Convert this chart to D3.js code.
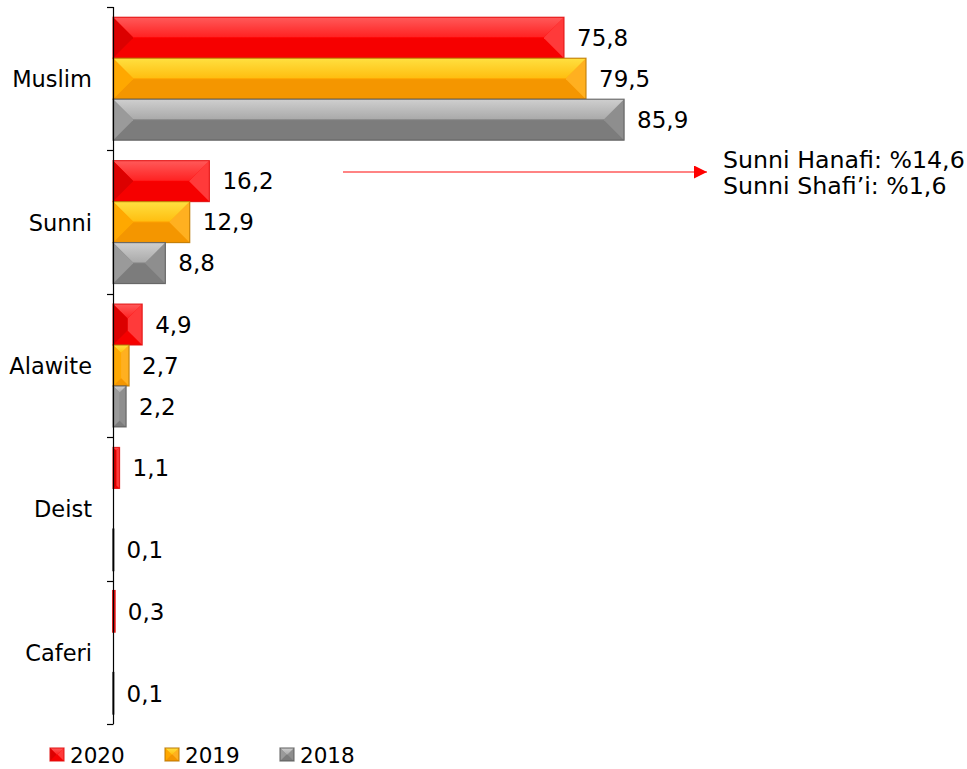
<!DOCTYPE html>
<html><head><meta charset="utf-8">
<script src="https://cdn.jsdelivr.net/npm/d3@7"></script>
<style>body{margin:0;background:#fff}svg{display:block}text{font-family:"DejaVu Sans",Verdana,sans-serif}</style>
</head><body>
<svg id="c" width="967" height="769"></svg>
<script>
const categories = ["Muslim","Sunni","Alawite","Deist","Caferi"];
const series = ["2020","2019","2018"];
const v2020 = [75.8,16.2,4.9,1.1,0.3];
const v2019 = [79.5,12.9,2.7,null,null];
const v2018 = [85.9,8.8,2.2,0.1,0.1];
const noteLines = ["Sunni Hanafi: %14,6","Sunni Shafi\u2019i: %1,6"];

const values = {"2020":v2020,"2019":v2019,"2018":v2018};
const pal = {
  "2020":{base:"#ff0000",top1:"#ff5a5a",top2:"#ff2222",left:"#dc0000",right:"#ff3a3a",bottom:"#f60000",stroke:"#e01010"},
  "2019":{base:"#ffa000",top1:"#ffe040",top2:"#ffbe10",left:"#ffa800",right:"#ffb020",bottom:"#f49600",stroke:"#b87400"},
  "2018":{base:"#848484",top1:"#cfcfcf",top2:"#aaaaaa",left:"#9a9a9a",right:"#8e8e8e",bottom:"#7c7c7c",stroke:"#5a5a5a"}
};

const svg = d3.select("#c");
const defs = svg.append("defs");
series.forEach(s=>{
  const g = defs.append("linearGradient").attr("id","tg"+s).attr("x1",0).attr("y1",0).attr("x2",0).attr("y2",1);
  g.append("stop").attr("offset","0%").attr("stop-color",pal[s].top1);
  g.append("stop").attr("offset","100%").attr("stop-color",pal[s].top2);
});
defs.append("marker").attr("id","arr").attr("viewBox","0 0 10 10").attr("refX",10).attr("refY",5)
  .attr("markerWidth",14).attr("markerHeight",13).attr("markerUnits","userSpaceOnUse").attr("orient","auto")
  .append("path").attr("d","M0,0L10,5L0,10Z").attr("fill","#ff0000");

const x = d3.scaleLinear().domain([0,100]).range([113,708]);
const y = d3.scaleBand().domain(categories).range([7,724]).padding(0);
const ys = d3.scaleBand().domain(series).range([0,y.bandwidth()]).paddingOuter(0.25).paddingInner(0);

function bevel(g, x0, y0, w, h, s){
  const p = pal[s];
  const x1 = x0+w, y1 = y0+h;
  const b = Math.min(h/2, w/2, 20);
  g.append("rect").attr("x",x0).attr("y",y0).attr("width",w).attr("height",h).attr("fill",p.base);
  const poly = (pts,fill)=>g.append("polygon").attr("points",pts.map(q=>q.join(",")).join(" ")).attr("fill",fill);
  poly([[x0,y1],[x1,y1],[x1-b,y1-b],[x0+b,y1-b]],p.bottom);
  poly([[x1,y0],[x1,y1],[x1-b,y1-b],[x1-b,y0+b]],p.right);
  poly([[x0,y0],[x1,y0],[x1-b,y0+b],[x0+b,y0+b]],"url(#tg"+s+")");
  poly([[x0,y0],[x0+b,y0+b],[x0+b,y1-b],[x0,y1]],p.left);
  g.append("rect").attr("x",x0).attr("y",y0).attr("width",w).attr("height",h)
    .attr("fill","none").attr("stroke",p.stroke).attr("stroke-width",w<3?1.8:1.2).attr("stroke-opacity",w<3?1:0.8);
}

const bars = svg.append("g");
categories.forEach((c,i)=>{
  series.forEach(s=>{
    const v = values[s][i];
    if(v==null) return;
    const y0 = y(c)+ys(s), h = ys.bandwidth();
    const w = x(v)-x(0);
    bevel(bars.append("g"), x(0), y0, w, h, s);
    svg.append("text").attr("x",x(v)+13).attr("y",y0+h/2).attr("dy","0.36em")
      .attr("font-size",23).attr("fill","#000").text(String(v).replace(".",","));
  });
});

// axis
const ax = svg.append("g").attr("transform","translate(113,0)")
  .call(d3.axisLeft(y).tickSize(0).tickPadding(21));
ax.select(".domain").remove();
ax.selectAll("text").attr("font-size",22.5).attr("fill","#000").attr("font-family","DejaVu Sans").attr("dy","0.38em");
svg.append("line").attr("x1",113.5).attr("x2",113.5).attr("y1",7).attr("y2",724).attr("stroke","#000").attr("stroke-width",1.2);
const bounds = categories.map(c=>y(c)).concat([y.range()[1]]);
svg.selectAll(".tk").data(bounds).enter().append("line")
  .attr("x1",107).attr("x2",113.5).attr("y1",d=>Math.round(d)+0.5).attr("y2",d=>Math.round(d)+0.5)
  .attr("stroke","#000").attr("stroke-width",1.2);

// annotation
svg.append("line").attr("x1",343).attr("x2",707).attr("y1",172).attr("y2",172)
  .attr("stroke","#ff5a5a").attr("stroke-width",1.3).attr("marker-end","url(#arr)");
noteLines.forEach((t,i)=>svg.append("text").attr("x",723).attr("y",159+i*26).attr("dy","0.36em")
  .attr("font-size",23.7).attr("fill","#000").text(t));

// legend
const lx = [50,165,280];
series.forEach((s,i)=>{
  bevel(svg.append("g"), lx[i], 748, 14, 13, s);
  svg.append("text").attr("x",lx[i]+20).attr("y",755).attr("dy","0.36em").attr("font-size",21.5).attr("fill","#000").text(s);
});
</script>
</body></html>
